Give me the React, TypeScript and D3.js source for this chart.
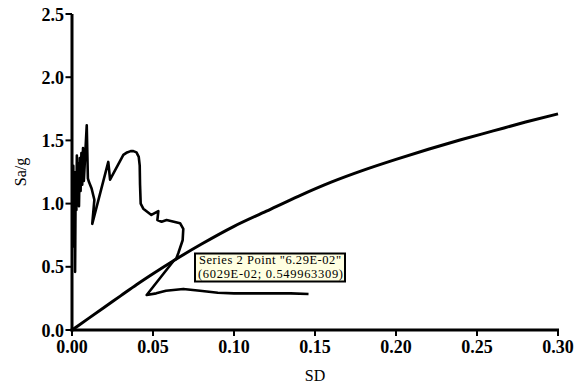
import React from "react";
import * as d3 from "d3";

const xTicks = [0, 0.05, 0.1, 0.15, 0.2, 0.25, 0.3];
const yTicks = [0, 0.5, 1.0, 1.5, 2.0, 2.5];

// Series 1: capacity curve
const capX = [0, 0.01, 0.02, 0.03, 0.04, 0.05, 0.0629, 0.08, 0.1, 0.12, 0.14, 0.16, 0.18, 0.2, 0.22, 0.24, 0.26, 0.28, 0.3];
const capY = [0, 0.09, 0.18, 0.27, 0.36, 0.445, 0.55, 0.68, 0.82, 0.94, 1.06, 1.17, 1.265, 1.35, 1.43, 1.505, 1.575, 1.645, 1.71];

// Series 2: demand spectrum
const demX = [
  0.0004, 0.0008, 0.0012, 0.0016, 0.0019, 0.0023, 0.0027, 0.003, 0.0034, 0.0038, 0.0043, 0.0048, 0.0053, 0.0058, 0.0063,
  0.0068, 0.0073, 0.0078, 0.0091, 0.0098, 0.0105, 0.0121, 0.0138, 0.0125, 0.0224, 0.0235, 0.0317, 0.034, 0.0362, 0.0379,
  0.0398, 0.0412, 0.0418, 0.042, 0.0424, 0.044, 0.049, 0.0533, 0.0527, 0.0553, 0.0584, 0.0667, 0.0687, 0.0683, 0.0656,
  0.0642, 0.0629, 0.0461, 0.052, 0.058, 0.0687, 0.079, 0.09, 0.1, 0.12, 0.135, 0.146,
];
const demY = [
  0.65, 1.3, 0.75, 1.2, 0.46, 1.25, 0.95, 1.38, 1.02, 1.32, 0.98, 1.36, 1.1, 1.4, 1.15,
  1.44, 1.18, 1.3, 1.62, 1.2, 1.17, 1.12, 1.03, 0.84, 1.33, 1.19, 1.385, 1.405, 1.415, 1.415,
  1.405, 1.37, 1.3, 1.15, 1.0, 0.96, 0.91, 0.94, 0.87, 0.857, 0.87, 0.845, 0.8, 0.71, 0.607,
  0.56, 0.55, 0.277, 0.29, 0.31, 0.325, 0.31, 0.295, 0.29, 0.29, 0.29, 0.285,
];

const tipLine1 = 'Series 2 Point "6.29E-02"';
const tipLine2 = "(6029E-02; 0.549963309)";

export default function App() {
  const W = 575, H = 387;
  const x = d3.scaleLinear().domain([0, 0.3]).range([72, 558]);
  const y = d3.scaleLinear().domain([0, 2.5]).range([330, 14]);

  const cap = capX.map((v, i) => [v, capY[i]] as [number, number]);
  const dem = demX.map((v, i) => [v, demY[i]] as [number, number]);

  const capLine = d3.line<[number, number]>().x(d => x(d[0])).y(d => y(d[1])).curve(d3.curveMonotoneX)(cap) || "";
  const demLine = d3.line<[number, number]>().x(d => x(d[0])).y(d => y(d[1]))(dem) || "";

  const ff = "Liberation Serif";

  return (
    <div style={{ position: "absolute", left: 0, top: 0 }}>
      <svg width={W} height={H} style={{ display: "block", background: "#fff" }} fontFamily={ff}>
        <rect width={W} height={H} fill="#fff" />
        <path d={demLine} fill="none" stroke="#000" strokeWidth={2.6} strokeLinejoin="round" />
        <path d={capLine} fill="none" stroke="#000" strokeWidth={3} />

        {/* axes */}
        <line x1={72} x2={72} y1={y(2.5)} y2={331.5} stroke="#000" strokeWidth={3} />
        <line x1={70.5} x2={x(0.3) + 1} y1={330} y2={330} stroke="#000" strokeWidth={3} />
        {yTicks.map(t => (
          <g key={"y" + t}>
            <line x1={65.5} x2={72} y1={y(t)} y2={y(t)} stroke="#000" strokeWidth={2} />
            <text x={64} y={y(t) + 6.5} textAnchor="end" fontFamily={ff} fontWeight="bold" fontSize={18}>
              {t.toFixed(1)}
            </text>
          </g>
        ))}
        {xTicks.map(t => (
          <g key={"x" + t}>
            <line x1={x(t)} x2={x(t)} y1={330} y2={336} stroke="#000" strokeWidth={2} />
            <text x={x(t)} y={353} textAnchor="middle" fontFamily={ff} fontWeight="bold" fontSize={18}>
              {t.toFixed(2)}
            </text>
          </g>
        ))}
        <text x={x(0.15)} y={381} textAnchor="middle" fontFamily={ff} fontSize={16}>SD</text>
        <text transform={`translate(26,${(14 + 330) / 2}) rotate(-90)`} textAnchor="middle" fontFamily={ff} fontSize={16}>
          Sa/g
        </text>

        {/* tooltip */}
        <rect x={195} y={253.5} width={150} height={28} fill="#ffffe1" stroke="#000" strokeWidth={2} />
        <text x={199} y={264} fontFamily={ff} fontSize={12.5} textLength={142} lengthAdjust="spacing">{tipLine1}</text>
        <text x={198} y={277.5} fontFamily={ff} fontSize={12.5} textLength={145} lengthAdjust="spacing">{tipLine2}</text>
      </svg>
    </div>
  );
}
